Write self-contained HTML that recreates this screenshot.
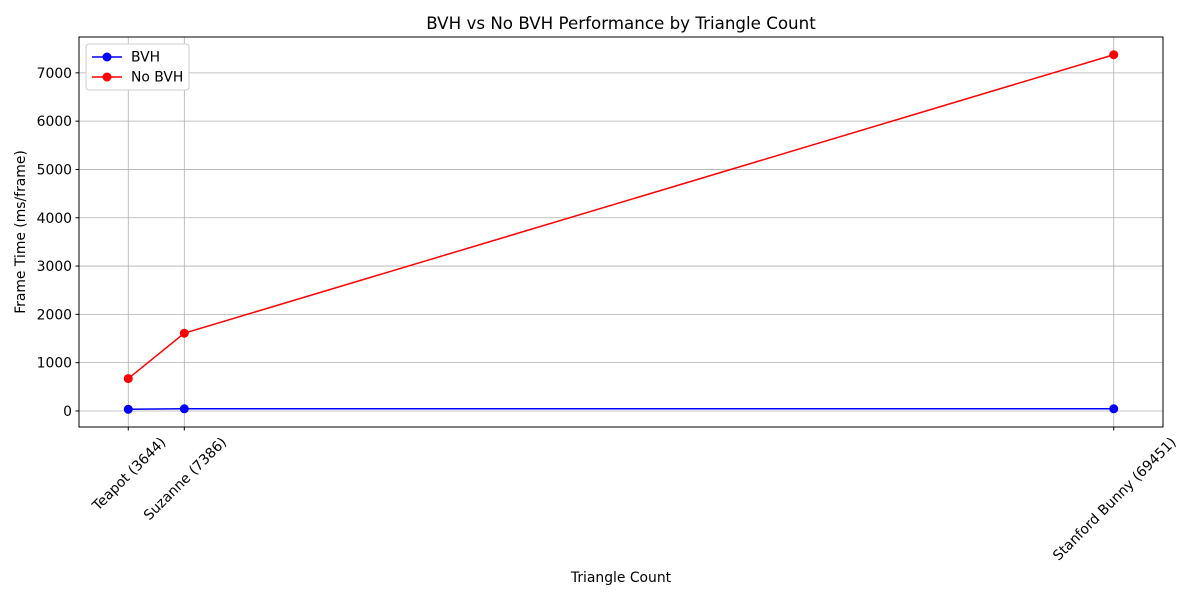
<!DOCTYPE html>
<html><head><meta charset="utf-8"><style>
body{margin:0;background:#fff;font-family:"Liberation Sans","DejaVu Sans",sans-serif}
svg text{font-family:"DejaVu Sans","Liberation Sans",sans-serif}
</style></head><body>
<svg id="chart" width="1200" height="600" xmlns="http://www.w3.org/2000/svg">
<rect width="1200" height="600" fill="#fff"/>
<text x="621" y="29" font-size="16.7" text-anchor="middle">BVH vs No BVH Performance by Triangle Count</text>
<g id="grid"></g>
<g id="series"></g>
<rect x="79" y="37" width="1084" height="390" fill="none" stroke="#000" stroke-width="1"/>
<g id="axes"></g>
<text x="621" y="582" font-size="13.9" text-anchor="middle">Triangle Count</text>
<text transform="translate(25,232) rotate(-90)" font-size="13.9" text-anchor="middle">Frame Time (ms/frame)</text>
<g>
<rect x="86" y="44" width="103" height="46" rx="3" fill="#fff" stroke="#ccc"/>
<g><line x1="92" y1="57" x2="122" y2="57" stroke="blue" stroke-width="1.5"/><circle cx="107" cy="57" r="4.5" fill="blue"/><text x="131" y="61.5" font-size="13.9">BVH</text></g>
<g><line x1="92" y1="77" x2="122" y2="77" stroke="red" stroke-width="1.5"/><circle cx="107" cy="77" r="4.5" fill="red"/><text x="131" y="81.5" font-size="13.9">No BVH</text></g>
</g>
</svg>
<script>
const categories = ["Teapot (3644)", "Suzanne (7386)", "Stanford Bunny (69451)"];
const triangleCounts = [3644, 7386, 69451];
const bvhValues = [35, 45, 45];
const noBvhValues = [670, 1610, 7375];
const yTicks = [0, 1000, 2000, 3000, 4000, 5000, 6000, 7000];

const L=79,R=1163,T=37,B=427;
const xmin=Math.min(...triangleCounts), xmax=Math.max(...triangleCounts), xr=xmax-xmin;
const x0=xmin-0.05*xr, x1=xmax+0.05*xr;
const all=bvhValues.concat(noBvhValues);
const ymn=Math.min(...all), ymx=Math.max(...all), yr=ymx-ymn;
const y0=ymn-0.05*yr, y1=ymx+0.05*yr;
const X=v=>L+(v-x0)/(x1-x0)*(R-L);
const Y=v=>B-(v-y0)/(y1-y0)*(B-T);
const NS="http://www.w3.org/2000/svg";
function mk(tag,attrs,parent){const e=document.createElementNS(NS,tag);for(const k in attrs)e.setAttribute(k,attrs[k]);parent.appendChild(e);return e;}
const grid=document.getElementById('grid'), axes=document.getElementById('axes'), ser=document.getElementById('series');
yTicks.forEach(t=>{const y=Y(t);
 const g=mk('line',{x1:L,x2:R,y1:y,y2:y,stroke:'#b0b0b0','stroke-width':0.8},grid);
 
 
 mk('line',{x1:L-3.5,x2:L,y1:y,y2:y,stroke:'#000'},axes);
 const tx=mk('text',{x:L-7,y:y+5,'font-size':13.9,'text-anchor':'end'},axes);tx.textContent=t;
 
 
});
triangleCounts.forEach((c,i)=>{const x=X(c);
 const g=mk('line',{x1:x,x2:x,y1:T,y2:B,stroke:'#b0b0b0','stroke-width':0.8},grid);
 
 
 mk('line',{x1:x,x2:x,y1:B,y2:B+3.5,stroke:'#000'},axes);
 const tx=mk('text',{x:0,y:0,'font-size':13.9,'text-anchor':'end'},axes);tx.textContent=categories[i];
 const w=tx.getComputedTextLength();
 const d=w*0.7071/2;
 tx.setAttribute('transform',`translate(${x+d+4},${B+16}) rotate(-45)`);
 
 
});
function series(vals,color,name){
 const p=mk('polyline',{points:vals.map((v,i)=>X(triangleCounts[i])+','+Y(v)).join(' '),fill:'none',stroke:color,'stroke-width':1.5},ser);
 
 
 vals.forEach((v,i)=>{const c=mk('circle',{cx:X(triangleCounts[i]),cy:Y(v),r:4.5,fill:color},ser);
  
  });
}
series(bvhValues,'blue','bvh');
series(noBvhValues,'red','no-bvh');
</script>
</body></html>
